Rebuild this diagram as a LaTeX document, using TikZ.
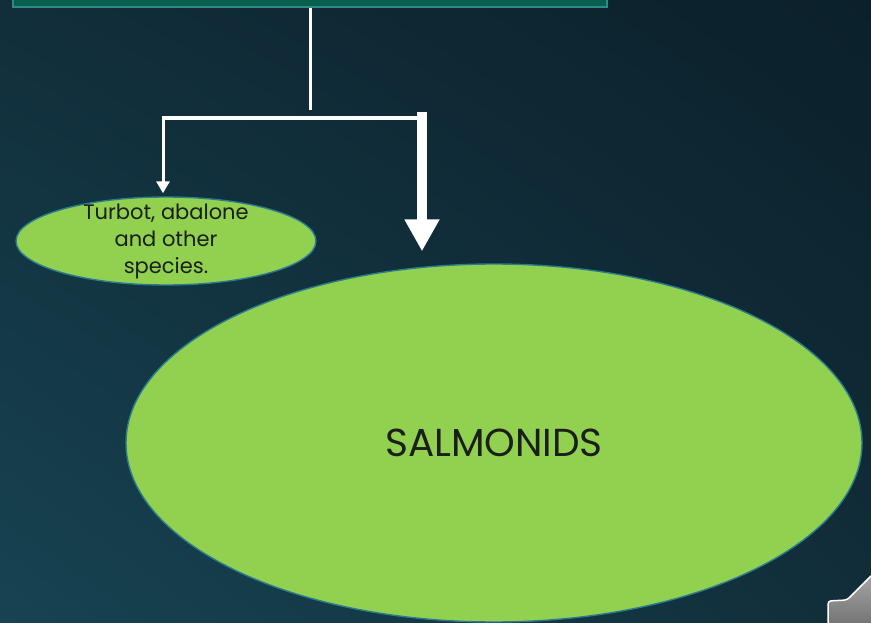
\documentclass[tikz,border=0pt]{standalone}
\usepackage{fontspec}
\setmainfont{Poppins}
\usetikzlibrary{arrows.meta, positioning, shapes.geometric, shadings}
\definecolor{bgdark}{HTML}{0B202A}
\definecolor{bglight}{HTML}{174352}
\definecolor{bgmid}{HTML}{112E3A}
\definecolor{boxfill}{HTML}{0A5E4E}
\definecolor{boxline}{HTML}{2E8A86}
\definecolor{leaf}{HTML}{92D050}
\definecolor{leafline}{HTML}{2A7C8C}
\definecolor{ink}{HTML}{1A1F1A}
\tikzset{
    topbox/.style = {
        draw=boxline, fill=boxfill, rectangle, line width=1.5pt, minimum width=594pt, minimum height=14pt
    },
    blob/.style = {
        draw=leafline, fill=leaf, ellipse, line width=1.4pt, inner sep=0pt, text=ink, align=center
    },
    link/.style = {
        draw=white, line width=4pt
    }
    }
\begin{document}
\begin{tikzpicture}[x=1pt, y=-1pt]
        % background
        \useasboundingbox (0,0) rectangle (871,623);
        \shade[upper left=bgmid, upper right=bgdark, lower left=bglight, lower right=bgmid] (0,0) rectangle (871,623);
        % Place the blocks
        \node [blob, minimum width=300pt, minimum height=88pt, inner ysep=-14pt, font=\fontsize{21}{27}\selectfont] (small) at (166,241) {Turbot, abalone\\and other\\species.};
        \node [blob, minimum width=736pt, minimum height=358pt, font=\fontsize{39}{44}\selectfont] (big) at (494,443) {SALMONIDS};
        \node [topbox] (top) at (310,0) {};
        \coordinate (split) at (310,110);
        \coordinate (left) at (163,118);
        \coordinate (right) at (422,118);
        \begin{scope}[draw=white]
            \draw[link, line width=3pt] (top.south) -- (split);
            \draw[link] ([xshift=-1.5pt]left) -- ([xshift=4pt]right);
            \draw[link, line width=3pt, -{Triangle[width=13pt,length=12pt]}] (left) -- ([yshift=3pt]left |- small.north);
            \draw[link, line width=10pt, -{Triangle[width=33pt,length=32pt]}] ([yshift=6pt]right) -- ([yshift=12pt]right |- big.north);
        \end{scope}
        % corner button
        \shade[top color=gray!70, bottom color=gray!90!black, draw=white, line width=1.5pt, rounded corners=3pt]
            (828,625) -- (828,601) -- (847,600) -- (873,574) -- (873,625) -- cycle;
    \end{tikzpicture}
\end{document}
